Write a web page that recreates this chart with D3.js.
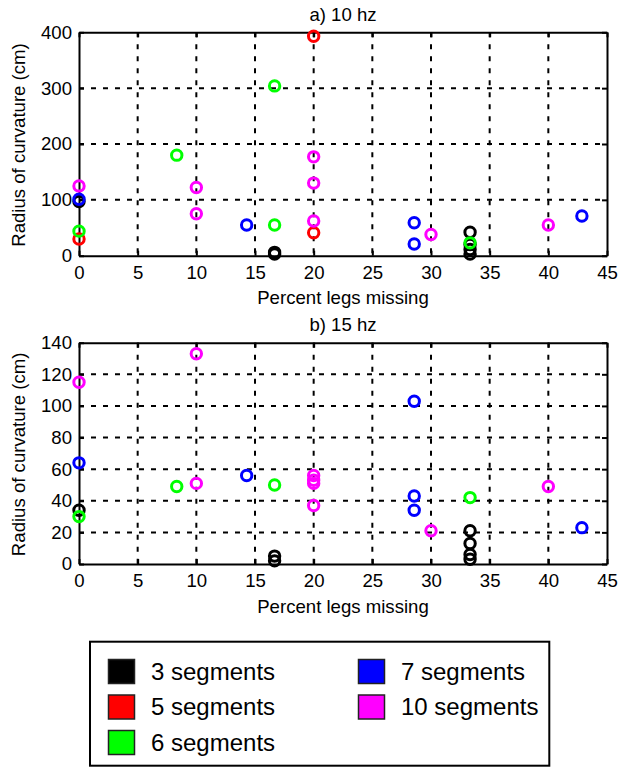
<!DOCTYPE html>
<html>
<head>
<meta charset="utf-8">
<script src="https://cdn.jsdelivr.net/npm/d3@7"></script>
<style>
  body { margin: 0; background: #fff; }
  svg { display: block; font-family: "Liberation Sans", Arial, Helvetica, sans-serif; }
</style>
</head>
<body>
<svg id="chart" width="618" height="769"></svg>
<script>
// ---------- DATA ----------
const seriesNames = ["3 segments", "5 segments", "6 segments", "7 segments", "10 segments"];
const seriesColors = ["#000000", "#ff0000", "#00ff00", "#0000ff", "#ff00ff"];

const xTicks = [0, 5, 10, 15, 20, 25, 30, 35, 40, 45];
const yTicksA = [0, 100, 200, 300, 400];
const yTicksB = [0, 20, 40, 60, 80, 100, 120, 140];

// a) 10 hz
const a3x  = [0, 16.67, 16.67, 33.33, 33.33, 33.33, 33.33];
const a3y  = [97, 3, 6, 42, 20, 11, 3];
const a5x  = [0, 20, 20];
const a5y  = [30, 41, 393];
const a6x  = [0, 8.33, 16.67, 16.67, 33.33];
const a6y  = [44, 180, 304, 55, 23];
const a7x  = [0, 14.29, 28.57, 28.57, 42.86];
const a7y  = [101, 55, 59, 21, 71];
const a10x = [0, 10, 10, 20, 20, 20, 30, 40];
const a10y = [125, 122, 75, 177, 130, 62, 38, 55];

// b) 15 hz
const b3x  = [0, 16.67, 16.67, 33.33, 33.33, 33.33, 33.33];
const b3y  = [34, 5, 2, 21, 13, 6, 3];
const b5x  = [];
const b5y  = [];
const b6x  = [0, 8.33, 16.67, 33.33];
const b6y  = [30, 49, 50, 42];
const b7x  = [0, 14.29, 28.57, 28.57, 28.57, 42.86];
const b7y  = [64, 56, 103, 43, 34, 23];
const b10x = [0, 10, 10, 20, 20, 20, 20, 30, 40];
const b10y = [115, 133, 51, 56, 53, 51, 37, 21, 49];

const panels = [
  { title: "a) 10 hz", yMax: 400, yTicks: yTicksA,
    series: [[a3x, a3y], [a5x, a5y], [a6x, a6y], [a7x, a7y], [a10x, a10y]],
    top: 32.3, bottom: 255.7 },
  { title: "b) 15 hz", yMax: 140, yTicks: yTicksB,
    series: [[b3x, b3y], [b5x, b5y], [b6x, b6y], [b7x, b7y], [b10x, b10y]],
    top: 342.7, bottom: 564 }
];

// ---------- DRAW ----------
const svg = d3.select("#chart");
const left = 79, right = 607;
const fontSize = 18.6;

panels.forEach(p => {
  const x = d3.scaleLinear().domain([0, 45]).range([left, right]);
  const y = d3.scaleLinear().domain([0, p.yMax]).range([p.bottom, p.top]);
  const g = svg.append("g");

  // grid
  g.append("g").selectAll("line").data(xTicks.filter(t => t > 0 && t < 45)).join("line")
    .attr("x1", d => x(d)).attr("x2", d => x(d))
    .attr("y1", p.top).attr("y2", p.bottom)
    .attr("stroke", "#000").attr("stroke-width", 2).attr("stroke-dasharray", "5,7");
  g.append("g").selectAll("line").data(p.yTicks.filter(t => t > 0 && t < p.yMax)).join("line")
    .attr("y1", d => y(d)).attr("y2", d => y(d))
    .attr("x1", left).attr("x2", right)
    .attr("stroke", "#000").attr("stroke-width", 2).attr("stroke-dasharray", "5,7");

  // axes
  const xAxis = g.append("g").attr("transform", `translate(0,${p.bottom})`)
    .call(d3.axisBottom(x).tickValues(xTicks).tickFormat(d3.format("d"))
      .tickSizeInner(-5).tickSizeOuter(0).tickPadding(10));
  const xAxisTop = g.append("g").attr("transform", `translate(0,${p.top})`)
    .call(d3.axisTop(x).tickValues(xTicks).tickFormat("").tickSizeInner(-5).tickSizeOuter(0));
  const yAxis = g.append("g").attr("transform", `translate(${left},0)`)
    .call(d3.axisLeft(y).tickValues(p.yTicks).tickFormat(d3.format("d"))
      .tickSizeInner(-5).tickSizeOuter(0).tickPadding(7));
  const yAxisR = g.append("g").attr("transform", `translate(${right},0)`)
    .call(d3.axisRight(y).tickValues(p.yTicks).tickFormat("").tickSizeInner(-5).tickSizeOuter(0));

  [xAxis, xAxisTop, yAxis, yAxisR].forEach(a => {
    a.selectAll("path.domain").attr("stroke", "#000").attr("stroke-width", 2);
    a.selectAll(".tick line").attr("stroke", "#000").attr("stroke-width", 2);
    a.selectAll("text").attr("font-size", fontSize).attr("fill", "#000")
      .attr("font-family", "Liberation Sans, Arial, sans-serif");
  });

  // markers
  p.series.forEach((s, i) => {
    const pts = s[0].map((xv, k) => ({ x: xv, y: s[1][k] }));
    g.append("g").selectAll("circle").data(pts).join("circle")
      .attr("cx", d => x(d.x)).attr("cy", d => y(d.y)).attr("r", 5.2)
      .attr("fill", "none").attr("stroke", seriesColors[i]).attr("stroke-width", 3);
  });

  // title
  g.append("text").attr("x", (left + right) / 2).attr("y", p.top - 11.5)
    .attr("text-anchor", "middle").attr("font-size", fontSize).text(p.title);
  // x label
  g.append("text").attr("x", (left + right) / 2).attr("y", p.bottom + 48.5)
    .attr("text-anchor", "middle").attr("font-size", fontSize).text("Percent legs missing");
  // y label
  g.append("text")
    .attr("transform", `translate(25,${(p.top + p.bottom) / 2 + 1}) rotate(-90)`)
    .attr("text-anchor", "middle").attr("font-size", fontSize).text("Radius of curvature (cm)");
});

// ---------- LEGEND ----------
const leg = svg.append("g");
leg.append("rect").attr("x", 90).attr("y", 641.7).attr("width", 459.3).attr("height", 124)
  .attr("fill", "#fff").attr("stroke", "#000").attr("stroke-width", 2);
const legPos = [
  { col: 0, row: 0 }, { col: 0, row: 1 }, { col: 0, row: 2 },
  { col: 1, row: 0 }, { col: 1, row: 1 }
];
const colX = [108.5, 358.5];
const rowY = [659.5, 695, 730.5];
seriesNames.forEach((name, i) => {
  const pos = legPos[i];
  leg.append("rect").attr("x", colX[pos.col]).attr("y", rowY[pos.row])
    .attr("width", 26).attr("height", 24)
    .attr("fill", seriesColors[i]).attr("stroke", "#222").attr("stroke-width", 1.5);
  leg.append("text").attr("x", colX[pos.col] + 42.5).attr("y", rowY[pos.row] + 12)
    .attr("dy", "0.35em").attr("font-size", 24).text(name);
});
</script>
</body>
</html>
